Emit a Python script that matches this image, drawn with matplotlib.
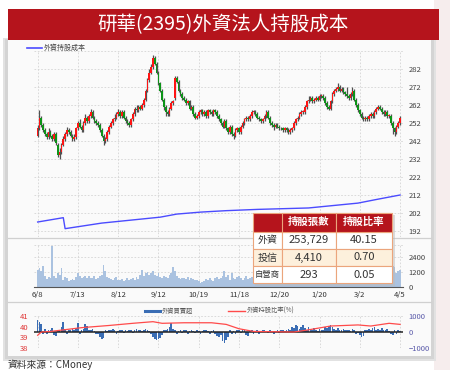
import matplotlib
matplotlib.use('Agg')
import matplotlib.pyplot as plt
import numpy as np
from matplotlib.patches import Rectangle
from matplotlib.lines import Line2D

plt.rcParams['font.family'] = ['Noto Sans CJK TC', 'DejaVu Sans']

# ---------------- data ----------------
tick_idx = [0, 22, 44, 66, 88, 110, 132, 154, 176, 198]
tick_labels = ['6/8', '7/13', '8/12', '9/12', '10/19', '11/18', '12/20', '1/20', '3/2', '4/5']

opens = [245,249,255,251,248,246,244,247,245,243,
         246,240,234,236,240,243,246,248,247,245,
         243,244,249,252,250,248,252,255,253,256,
         258,255,253,252,251,248,245,242,243,247,
         250,252,254,255,257,258,256,258,255,253,
         252,251,254,257,260,259,261,260,262,265,
         270,276,280,283,288,285,280,274,270,265,
         261,258,257,260,263,266,277,275,270,268,
         266,265,263,264,260,261,257,255,256,258,
         259,257,258,256,259,258,257,259,258,256,
         254,252,250,253,249,247,250,246,245,248,
         249,247,250,252,254,255,254,256,258,258,
         257,255,254,253,254,256,258,255,252,251,
         250,251,250,249,249,248,249,248,247,248,
         249,252,254,255,257,258,258,261,264,265,
         266,264,265,266,265,267,267,266,263,261,
         260,264,268,270,271,272,270,271,269,268,
         267,266,268,270,265,262,259,257,255,254,
         255,254,256,257,256,258,260,261,260,258,
         257,258,256,256,252,249,247,250,252]
closes = [249,255,251,248,246,244,247,245,243,246,
          241,234,236,240,243,246,248,247,245,243,
          244,249,252,250,248,252,255,253,256,258,
          255,253,252,251,248,245,242,243,247,250,
          252,254,255,257,258,256,258,255,253,252,
          251,254,257,260,259,261,260,262,265,270,
          276,280,283,288,285,280,274,270,265,261,
          258,257,260,263,264,277,275,270,268,266,
          265,263,264,260,261,257,255,256,258,259,
          257,258,256,259,258,257,259,258,256,254,
          252,250,253,249,247,250,246,245,248,249,
          247,250,252,254,255,254,256,258,258,257,
          255,254,253,254,256,258,255,252,251,250,
          251,250,249,249,248,249,248,247,248,249,
          252,254,255,257,258,258,261,264,265,266,
          264,265,266,265,267,267,266,263,261,260,
          264,268,270,271,272,270,271,269,268,267,
          266,268,270,265,262,259,257,255,254,255,
          254,256,257,256,258,260,261,260,258,257,
          258,256,256,252,249,247,250,252,255]
highs = [251,259,256,252,249,247,249,248,246,247,
         247,241,238,241,245,247,250,249,248,246,
         246,250,253,254,251,253,257,256,257,260,
         259,256,254,253,252,249,246,244,248,251,
         253,255,257,258,260,259,259,259,256,254,
         253,255,258,261,262,262,262,263,266,271,
         277,282,285,290,289,286,281,275,271,266,
         262,259,261,264,265,278,278,276,271,269,
         267,266,265,265,262,262,258,257,259,260,
         260,259,259,260,260,259,260,260,259,257,
         255,253,254,254,250,251,251,247,249,250,
         250,251,253,255,256,256,257,259,259,259,
         258,256,255,255,257,259,259,256,253,252,
         252,252,251,250,250,250,250,249,249,250,
         253,255,256,258,259,259,262,265,267,267,
         267,266,267,267,268,268,268,267,264,262,
         265,269,271,272,274,273,272,272,270,272,
         268,269,272,271,266,263,260,258,256,256,
         256,257,258,258,259,261,262,262,261,259,
         259,259,257,257,253,250,251,253,256]
lows = [244,248,250,247,245,243,243,244,242,242,
        240,233,232,235,239,242,245,246,244,242,
        242,243,248,249,247,247,251,252,252,255,
        254,252,251,250,247,244,240,241,242,246,
        249,251,253,254,256,255,255,254,252,251,
        250,250,253,256,258,258,259,259,261,264,
        269,275,279,282,284,279,273,269,264,259,
        256,256,256,259,262,265,274,269,267,265,
        264,262,262,259,259,256,254,254,255,257,
        256,256,255,255,257,256,256,257,255,253,
        251,249,249,248,246,246,245,243,244,247,
        246,246,249,251,253,253,253,255,257,256,
        254,253,252,252,253,255,254,251,250,248,
        249,249,248,248,247,247,247,246,246,247,
        248,251,253,254,256,257,257,260,263,264,
        263,263,264,264,264,266,265,262,260,259,
        259,263,267,269,270,269,269,268,267,266,
        265,265,267,264,261,258,256,254,253,253,
        253,253,255,255,255,257,259,259,257,256,
        256,255,255,251,246,245,246,249,251]

cost_idx = [0, 14, 15, 35, 67, 76, 89, 103, 120, 148, 160, 175, 185, 198]
cost_val = [197.0, 199.4, 193.3, 196.4, 199.7, 201.4, 202.5, 203.3, 204.0, 204.8, 206.0, 207.5, 209.5, 212.0]

volume = [1400,1550,1300,1650,900,650,800,700,3300,900,
          700,1100,950,1500,600,800,700,500,600,650,
          550,800,1150,900,750,800,900,700,850,750,
          700,850,650,700,900,1000,1800,1300,800,700,
          650,600,700,800,550,600,650,500,550,700,
          600,650,700,550,800,650,1000,1400,900,1100,
          1200,1000,1150,1250,1000,900,1100,800,700,900,
          800,750,1000,1100,1600,1300,900,700,650,750,
          700,650,800,600,700,650,550,600,500,300,
          400,500,650,550,700,600,500,750,800,650,
          700,900,1300,800,1000,600,1100,700,650,800,
          900,700,600,750,850,650,700,800,600,550,
          700,650,600,800,750,900,650,700,600,550,
          600,500,650,700,550,600,500,450,600,700,
          900,1000,800,750,900,1200,1100,1000,800,900,
          700,800,750,900,650,700,800,1000,900,750,
          1100,1200,1000,900,1300,800,900,700,750,650,
          800,1000,900,1200,1100,1300,900,800,750,700,
          800,700,650,750,900,800,700,1000,850,750,
          900,1000,1200,1500,1700,1600,1100,1300,1400]

net_buy = [750,600,500,-100,200,-150,100,150,250,-200,
           -250,100,150,300,600,200,-150,100,150,200,
           100,250,550,-100,150,200,500,350,100,150,
           200,50,-100,-150,-300,-400,-350,100,50,150,
           100,200,150,-100,50,150,100,-50,100,50,
           150,100,-50,100,200,150,100,50,150,200,
           100,50,-150,-300,-450,-500,-400,-350,-200,100,
           150,200,300,550,200,150,-100,50,100,-50,
           100,150,-100,50,100,50,-50,100,50,-100,
           50,100,150,50,-100,50,100,-150,-250,-300,
           -200,-550,-650,-500,-300,100,-150,50,-100,150,
           100,-50,150,100,-200,-250,50,100,-150,50,
           100,-100,50,150,100,50,-50,100,50,-100,
           50,100,-50,100,150,50,100,200,150,300,
           250,400,350,200,300,400,250,150,300,200,
           100,250,150,50,200,100,150,300,250,350,
           450,300,200,150,250,100,150,200,100,150,
           100,50,200,150,-100,-50,-200,-300,-250,100,
           150,200,100,250,300,150,200,100,250,150,
           100,200,50,-150,-200,100,-100,150,50]

ratio_idx = [0, 2, 7, 24, 39, 52, 63, 68, 80, 95, 103, 110, 118, 140, 148, 160, 175, 182, 192, 198]
ratio_val = [39.2, 39.5, 39.55, 39.9, 40.1, 40.3, 40.45, 40.3, 40.35, 40.35, 40.2, 39.8, 39.55, 39.5, 39.7, 40.05, 40.15, 40.05, 40.3, 40.2]

table_cols = ['持股張數', '持股比率']
table_rows = ['外資', '投信', '自營商']
table_shares = ['253,729', '4,410', '293']
table_pct = ['40.15', '0.70', '0.05']

title = '研華(2395)外資法人持股成本'
source = '資料來源：CMoney'

# ---------------- figure ----------------
W, H = 450, 370
fig = plt.figure(figsize=(4.5, 3.7), dpi=100)
fig.patch.set_facecolor('white')

def fx(x): return x / W
def fy(y): return 1 - y / H

def rect(x0, y0, x1, y1, **kw):
    r = Rectangle((fx(x0), fy(y1)), fx(x1) - fx(x0), fy(y0) - fy(y1),
                  transform=fig.transFigure, **kw)
    fig.add_artist(r)
    return r

def hline(x0, x1, y, **kw):
    fig.add_artist(Line2D([fx(x0), fx(x1)], [fy(y), fy(y)], transform=fig.transFigure, **kw))

# background decoration
rect(434, 0, 450, 370, fc='#f6eded', ec='none', zorder=-20)
rect(3, 38, 436, 361, fc='#e2e2e2', ec='none', zorder=-19)
rect(5, 39, 434, 359, fc='#d4d4d4', ec='none', zorder=-18)
rect(8, 40, 431, 356, fc='#fafafa', ec='none', zorder=-17)
rect(8, 9, 439, 40, fc='#b5141c', ec='none', zorder=-16)
fig.text(fx(223), fy(24.5), title, color='white', fontsize=14, ha='center', va='center')
fig.text(fx(8), fy(364.5), source, color='#333333', fontsize=7, ha='left', va='center')

# dividers
hline(8, 431, 237.5, color='#d0d0d0', lw=0.9, zorder=-10)
hline(8, 431, 301.5, color='#d0d0d0', lw=0.9, zorder=-10)

X0, X1 = 34, 403
XL = (-2, 199.6)
grid_kw = dict(color='#d4d4d4', lw=0.6, ls=(0, (2, 2)), zorder=0)
idx = np.arange(len(closes))

def style_axes(a):
    a.set_facecolor('none')
    for s in a.spines.values():
        s.set_visible(False)
    a.tick_params(length=0)

# ---- main price chart ----
ax = fig.add_axes([fx(X0), fy(237), fx(X1) - fx(X0), fy(51) - fy(237)])
style_axes(ax)
ax.set_xlim(*XL)
ax.set_ylim(188.67, 292)
for yv in range(192, 293, 10):
    ax.axhline(yv, **grid_kw)
for t in tick_idx:
    ax.axvline(t, **grid_kw)
o = np.array(opens, float); c = np.array(closes, float)
hi = np.array(highs, float); lo = np.array(lows, float)
ax.vlines(idx, lo, hi, color='#505050', lw=0.9, zorder=2)
up = c >= o
body = np.where(np.abs(c - o) < 0.4, 0.4, c - o)
ax.bar(idx[up], body[up], bottom=o[up], width=0.9, color='#ff1414', zorder=3, linewidth=0)
ax.bar(idx[~up], body[~up], bottom=o[~up], width=0.9, color='#0c9418', zorder=3, linewidth=0)
ax.plot(cost_idx, cost_val, color='#4b4bff', lw=1.0, zorder=4)
ax.set_xticks([])
ax.yaxis.tick_right()
ax.set_yticks(list(range(192, 283, 10)))
ax.tick_params(axis='y', labelsize=5.5, labelcolor='#444444', pad=4)

# legend main
fig.add_artist(Line2D([fx(27), fx(42)], [fy(48), fy(48)], color='#4b4bff', lw=1.2, transform=fig.transFigure))
fig.text(fx(44), fy(48), '外資持股成本', fontsize=5, color='#444444', ha='left', va='center')

# ---- volume ----
av = fig.add_axes([fx(X0), fy(287), fx(X1) - fx(X0), fy(245) - fy(287)])
style_axes(av)
av.set_xlim(*XL)
av.set_ylim(0, 3360)
for yv in [1200, 2400, 3360]:
    av.axhline(yv, **grid_kw)
for t in tick_idx:
    av.axvline(t, **grid_kw)
av.bar(idx, volume, width=1.0, color='#aac2e0', linewidth=0, zorder=2)
av.spines['bottom'].set_visible(True)
av.spines['bottom'].set_color('#555555')
av.spines['bottom'].set_linewidth(0.8)
av.set_xticks(tick_idx)
av.set_xticklabels(tick_labels)
av.tick_params(axis='x', labelsize=5.5, labelcolor='#333333', pad=3)
av.yaxis.tick_right()
av.set_yticks([0, 1200, 2400])
av.tick_params(axis='y', labelsize=5.5, labelcolor='#444444', pad=4)

# ---- bottom chart ----
ab = fig.add_axes([fx(X0), fy(348.3), fx(X1) - fx(X0), fy(315.7) - fy(348.3)])
style_axes(ab)
ab.set_xlim(*XL)
ab.set_ylim(38, 41)
ab2 = ab.twinx()
style_axes(ab2)
ab2.set_xlim(*XL)
ab2.set_ylim(-1000, 1000)
for t in tick_idx:
    ab2.axvline(t, **grid_kw)
for yv in [-1000, 1000]:
    ab2.axhline(yv, **grid_kw)
ab2.bar(idx, net_buy, width=0.9, color='#3a6db4', linewidth=0, zorder=2)
ab2.axhline(0, color='#222222', lw=1.1, zorder=3)
ab2.set_yticks([-1000, 0, 1000])
ab2.tick_params(axis='y', labelsize=5.5, labelcolor='#5a5aaa', pad=4)
ab.plot(ratio_idx, ratio_val, color='#ff4a4a', lw=0.9, zorder=5)
ab.set_zorder(ab2.get_zorder() + 1)
ab.set_yticks([38, 39, 40, 41])
ab.tick_params(axis='y', labelsize=5.5, labelcolor='#e03535', pad=4)
ab.set_xticks([]); ab2.set_xticks([])

# legend bottom
fig.add_artist(Line2D([fx(145), fx(160)], [fy(311), fy(311)], color='#3a6db4', lw=2.2, transform=fig.transFigure))
fig.text(fx(162), fy(311), '外資買賣超', fontsize=4.5, color='#555555', ha='left', va='center')
fig.add_artist(Line2D([fx(228), fx(245)], [fy(311), fy(311)], color='#ff4a4a', lw=1.0, transform=fig.transFigure))
fig.text(fx(247), fy(311), '外資持股比率(%)', fontsize=4.5, color='#555555', ha='left', va='center')

# ---- table ----
cx = [253, 282, 336, 392]
ry = [213, 231.5, 249, 266, 283]
border = '#eba57c'
rect(cx[0] + 2, ry[0] + 2, cx[3] + 3, ry[4] + 3, fc='#bbbbbb', ec='none', alpha=0.5, zorder=9)
rect(cx[0], ry[0], cx[3], ry[1], fc='#b5141c', ec=border, lw=0.8, zorder=10)
for r in range(3):
    fc = '#fdf0dc' if r == 1 else 'white'
    for k in range(3):
        rect(cx[k], ry[r + 1], cx[k + 1], ry[r + 2], fc=fc, ec=border, lw=0.8, zorder=10)
for k in range(2):
    rect(cx[k + 1], ry[0], cx[k + 2], ry[1], fc='#b5141c', ec=border, lw=0.8, zorder=10)
    fig.text(fx((cx[k + 1] + cx[k + 2]) / 2), fy((ry[0] + ry[1]) / 2), table_cols[k],
             color='white', fontsize=7.5, fontweight='bold', ha='center', va='center', zorder=11)
for r in range(3):
    ymid = fy((ry[r + 1] + ry[r + 2]) / 2)
    fig.text(fx((cx[0] + cx[1]) / 2), ymid, table_rows[r], color='#333333',
             fontsize=7.2 if r < 2 else 6, ha='center', va='center', zorder=11)
    fig.text(fx((cx[1] + cx[2]) / 2), ymid, table_shares[r], color='#333333',
             fontsize=8, ha='center', va='center', zorder=11)
    fig.text(fx((cx[2] + cx[3]) / 2), ymid, table_pct[r], color='#333333',
             fontsize=8, ha='center', va='center', zorder=11)

fig.savefig('out.png', dpi=100)
